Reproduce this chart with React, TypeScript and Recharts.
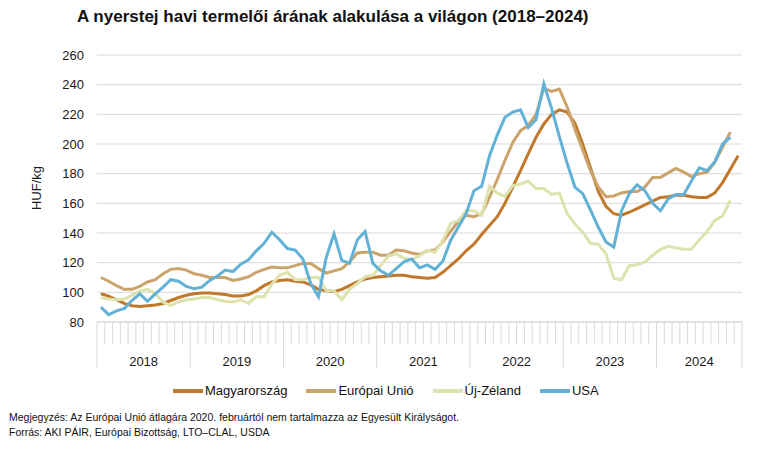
import React from 'react';
import { LineChart, Line, XAxis, YAxis, CartesianGrid } from 'recharts';

// havi adatok 2018 jan - 2024 nov, HUF/kg
const years = ['2018', '2019', '2020', '2021', '2022', '2023', '2024'];
const monthsPerYear = [12, 12, 12, 12, 12, 12, 11];

const magyarorszag = [
  99, 97.5, 95, 92.5, 91, 90.5, 91, 91.5, 92.5, 94.5, 96.5, 98,
  99, 99.5, 99.5, 99, 98.5, 97.5, 97.5, 98.5, 101, 104.5, 107, 108,
  108.5, 107.5, 107, 105, 102, 101, 100.5, 102, 104.5, 107, 109, 110,
  110.5, 111, 111.5, 111.5, 110.5, 110, 109.5, 110, 113.5, 118, 122.5, 128,
  132.5, 139, 145, 151, 160, 171, 182, 193.5, 204.5, 213.5, 220, 223,
  221.5, 214, 200, 184, 168, 158, 153, 152, 154, 156.5, 159, 161.5,
  164, 164.5, 165.5, 165.5, 164.5, 164, 164, 167, 174, 183, 192,
];

const europaiUnio = [
  110, 107.5, 104.5, 102, 102, 104, 107, 108.5, 112.5, 115.5, 116, 115,
  112.5, 111.5, 110, 110, 110, 108, 109, 110.5, 113.5, 115.5, 117, 116.5,
  116.5, 118, 119.5, 119.5, 116, 113, 114.5, 116, 120.5, 126.5, 127, 127,
  125, 125, 128.5, 128, 126.5, 125.5, 128, 128.5, 134, 141, 148, 152,
  151, 153, 164, 176, 189, 201, 209, 212.5, 220, 237.5, 235.5, 237,
  225, 210, 196, 182, 171, 164.5, 165, 167, 168, 168, 171, 177.5,
  177.5, 180.5, 183.5, 181, 178, 180, 181, 187.5, 198, 208,
];

const ujZeland = [
  96.5, 95.5, 95, 95.5, 98, 101, 102, 99, 93.5, 91, 93.5, 95,
  95.5, 96.5, 96.5, 95, 94, 93.5, 95, 92.5, 97, 97, 105.5, 111.5,
  113.5, 108.5, 108.5, 110, 110, 101, 101, 95, 102, 106, 110.5, 111.5,
  118, 124.5, 126, 123, 122, 124.5, 128.5, 127, 135, 146.5, 148.5, 155,
  155, 152, 171.5, 167, 164.5, 172, 173, 175, 170, 170, 166, 167,
  153, 146, 140.5, 133, 132.5, 126, 109.5, 108.5, 118, 118.5, 120.5, 125,
  129, 131, 130, 129, 129, 135.5, 141, 148.5, 151.5, 162,
];

const usa = [
  90, 85, 87.5, 89, 94.5, 99, 94, 99, 103.5, 108.5, 107.5, 104,
  102.5, 103.5, 108, 111, 115, 114, 119, 122, 128, 133, 140.5, 135.5,
  129.5, 128.5, 122.5, 106, 97, 123.5, 139.5, 121.5, 119.5, 135.5, 141, 119.5,
  114.5, 111.5, 116, 120.5, 122.5, 116.5, 118.5, 115.5, 121, 135, 144, 153,
  168.5, 171.5, 192, 206, 218, 221.5, 223, 211, 216.5, 240.5, 224, 205,
  187, 171, 166.5, 155.5, 144, 134, 130.5, 155, 166.5, 172.5, 168.5, 160,
  155, 163, 166, 166, 175, 184, 182, 188, 200, 204.5,
];

const yTicks = [80, 100, 120, 140, 160, 180, 200, 220, 240, 260];

const series = [
  { key: 'hu', name: 'Magyarország', color: '#c0782a', values: magyarorszag },
  { key: 'eu', name: 'Európai Unió', color: '#cba46c', values: europaiUnio },
  { key: 'nz', name: 'Új-Zéland', color: '#dee2ad', values: ujZeland },
  { key: 'us', name: 'USA', color: '#62b2d7', values: usa },
];

const data = magyarorszag.map((_, i) => {
  const row: any = { i };
  series.forEach((s) => {
    row[s.key] = s.values[i] ?? null;
  });
  return row;
});

// hónap határok és évközepek
const yearStarts: number[] = [];
monthsPerYear.reduce((acc, n) => {
  yearStarts.push(acc);
  return acc + n;
}, 0);
const monthEdges = Array.from({ length: data.length + 1 }, (_, k) => k - 0.5);
const yearEdges = [...yearStarts.map((s) => s - 0.5), data.length - 0.5];
const yearCenters = yearStarts.map((s, k) => s - 0.5 + monthsPerYear[k] / 2);

const MonthTick = (props: any) => {
  const { x, y, payload } = props;
  const big = yearEdges.includes(payload.value);
  return <line x1={x} x2={x} y1={y} y2={y + (big ? 46 : 22)} stroke="#d9d9d9" strokeWidth={1} />;
};

const YearTick = (props: any) => {
  const { x, y, payload } = props;
  const k = yearCenters.indexOf(payload.value);
  return (
    <text x={x} y={y + 22} textAnchor="middle" fontSize={13} fill="#1a1a1a">
      {years[k]}
    </text>
  );
};

const App = () => {
  return (
    <div style={{ position: 'relative', width: 751, height: 433, fontFamily: '"Liberation Sans", Arial, sans-serif', color: '#111' }}>
      <div style={{ position: 'absolute', left: 69, top: -1, fontSize: 17, fontWeight: 'bold', lineHeight: '20px', whiteSpace: 'nowrap' }}>
        A nyerstej havi termelői árának alakulása a világon (2018–2024)
      </div>
      <div style={{ position: 'absolute', left: 0, top: 0 }}>
        <LineChart width={751} height={390} data={data} margin={{ top: 47, right: 17, left: 29, bottom: 24 }}>
          <CartesianGrid vertical={false} stroke="#d9d9d9" />
          <XAxis
            dataKey="i"
            type="number"
            domain={[-0.5, data.length - 0.5]}
            ticks={monthEdges}
            interval={0}
            tick={<MonthTick />}
            tickLine={false}
            tickSize={0}
            tickMargin={0}
            height={22}
            axisLine={{ stroke: '#d9d9d9' }}
          />
          <XAxis
            xAxisId="yr"
            dataKey="i"
            type="number"
            domain={[-0.5, data.length - 0.5]}
            ticks={yearCenters}
            interval={0}
            tick={<YearTick />}
            tickLine={false}
            tickSize={0}
            tickMargin={0}
            height={30}
            axisLine={false}
          />
          <YAxis
            domain={[80, 260]}
            ticks={yTicks}
            interval={0}
            width={60}
            axisLine={false}
            tickLine={false}
            tickSize={5}
            tickMargin={8}
            tick={{ fontSize: 13, fill: '#1a1a1a' }}
            label={{
              content: () => (
                <text x={28} y={180} transform="rotate(-90 28 180)" textAnchor="middle" dominantBaseline="central" fontSize={13} fill="#1a1a1a">
                  HUF/kg
                </text>
              ),
            }}
          />
          {series.map((s) => (
            <Line
              key={s.key}
              dataKey={s.key}
              name={s.name}
              stroke={s.color}
              strokeWidth={3}
              dot={false}
              activeDot={false}
              isAnimationActive={false}
            />
          ))}
        </LineChart>
      </div>
      <div style={{ position: 'absolute', left: 165, top: 375, display: 'flex', alignItems: 'center', fontSize: 13, lineHeight: '16px' }}>
        {series.map((s) => (
          <div key={s.key} style={{ display: 'flex', alignItems: 'center', marginRight: 19 }}>
            <span style={{ display: 'inline-block', width: 30, height: 4, background: s.color, marginRight: 2 }} />
            {s.name}
          </div>
        ))}
      </div>
      <div style={{ position: 'absolute', left: 1, top: 402, fontSize: 10.5, lineHeight: '15px', whiteSpace: 'nowrap' }}>
        <div>Megjegyzés: Az Európai Unió átlagára 2020. februártól nem tartalmazza az Egyesült Királyságot.</div>
        <div>Forrás: AKI PÁIR, Európai Bizottság, LTO–CLAL, USDA</div>
      </div>
    </div>
  );
};

export default App;
